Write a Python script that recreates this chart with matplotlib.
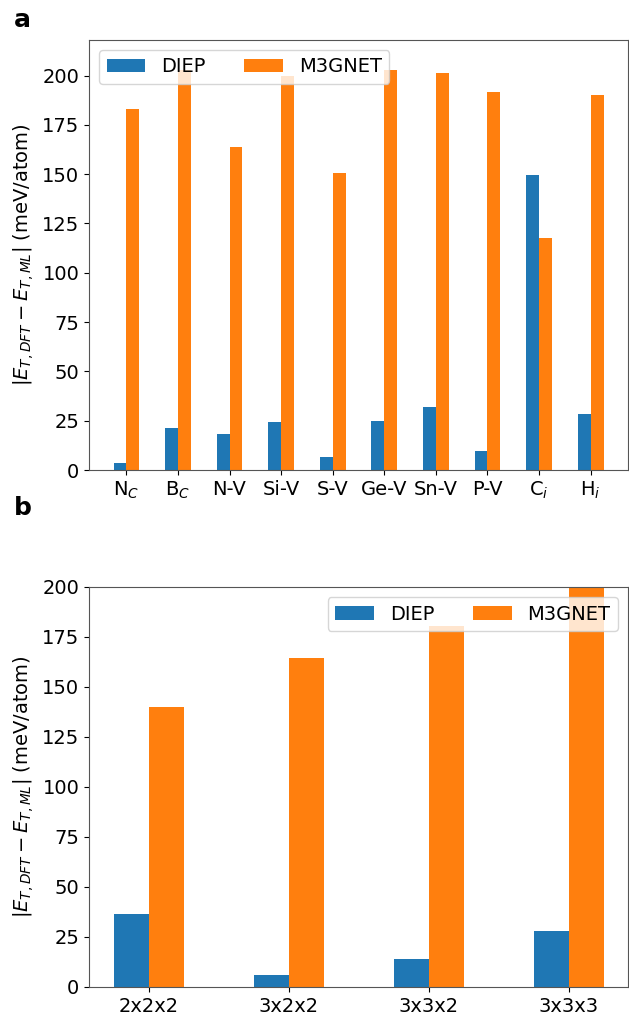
import matplotlib
matplotlib.use("Agg")
import matplotlib.pyplot as plt
import numpy as np

# panel a: defects
defects = ['N$_C$', 'B$_C$', 'N-V', 'Si-V', 'S-V', 'Ge-V', 'Sn-V', 'P-V', 'C$_i$', 'H$_i$']
diep_a = [3.4, 21.4, 18.0, 24.3, 6.6, 25.0, 31.7, 9.4, 149.6, 28.2]
m3gnet_a = [183, 203, 164, 200, 150.6, 203, 201.5, 191.5, 117.7, 190]

# panel b: supercells
cells = ['2x2x2', '3x2x2', '3x3x2', '3x3x3']
diep_b = [36.6, 6.0, 13.8, 27.8]
m3gnet_b = [140, 164.3, 180.3, 205]

ylab = r'$|E_{T,DFT} - E_{T,ML}|$ (meV/atom)'
w = 0.25
fs = 14

fig = plt.figure(figsize=(6.29, 10.17), dpi=100)
ax1 = fig.add_axes([89/629, 1-470/1017, 539/629, 430/1017])
ax2 = fig.add_axes([89/629, 1-987/1017, 539/629, 400/1017])


def draw(ax, labels, d, m):
    x = np.arange(len(labels))
    ax.bar(x - w/2, d, w, color='#1f77b4', label='DIEP')
    ax.bar(x + w/2, m, w, color='#ff7f0e', label='M3GNET')
    ax.set_xticks(x)
    ax.set_xticklabels(labels, fontsize=fs)
    ax.tick_params(axis='y', labelsize=fs)
    ax.set_ylabel(ylab, fontsize=fs)
    for s in ax.spines.values():
        s.set_color('#555555')


draw(ax1, defects, diep_a, m3gnet_a)
ax1.set_ylim(0, 218)
ax1.legend(loc='upper left', ncol=2, fontsize=fs)

draw(ax2, cells, diep_b, m3gnet_b)
ax2.set_ylim(0, 200)
ax2.legend(loc='upper right', ncol=2, fontsize=fs)

fig.text(0.022, 0.992, 'a', fontsize=18, fontweight='bold', va='top')
fig.text(0.022, 0.512, 'b', fontsize=18, fontweight='bold', va='top')

fig.savefig('out.png', dpi=100)
